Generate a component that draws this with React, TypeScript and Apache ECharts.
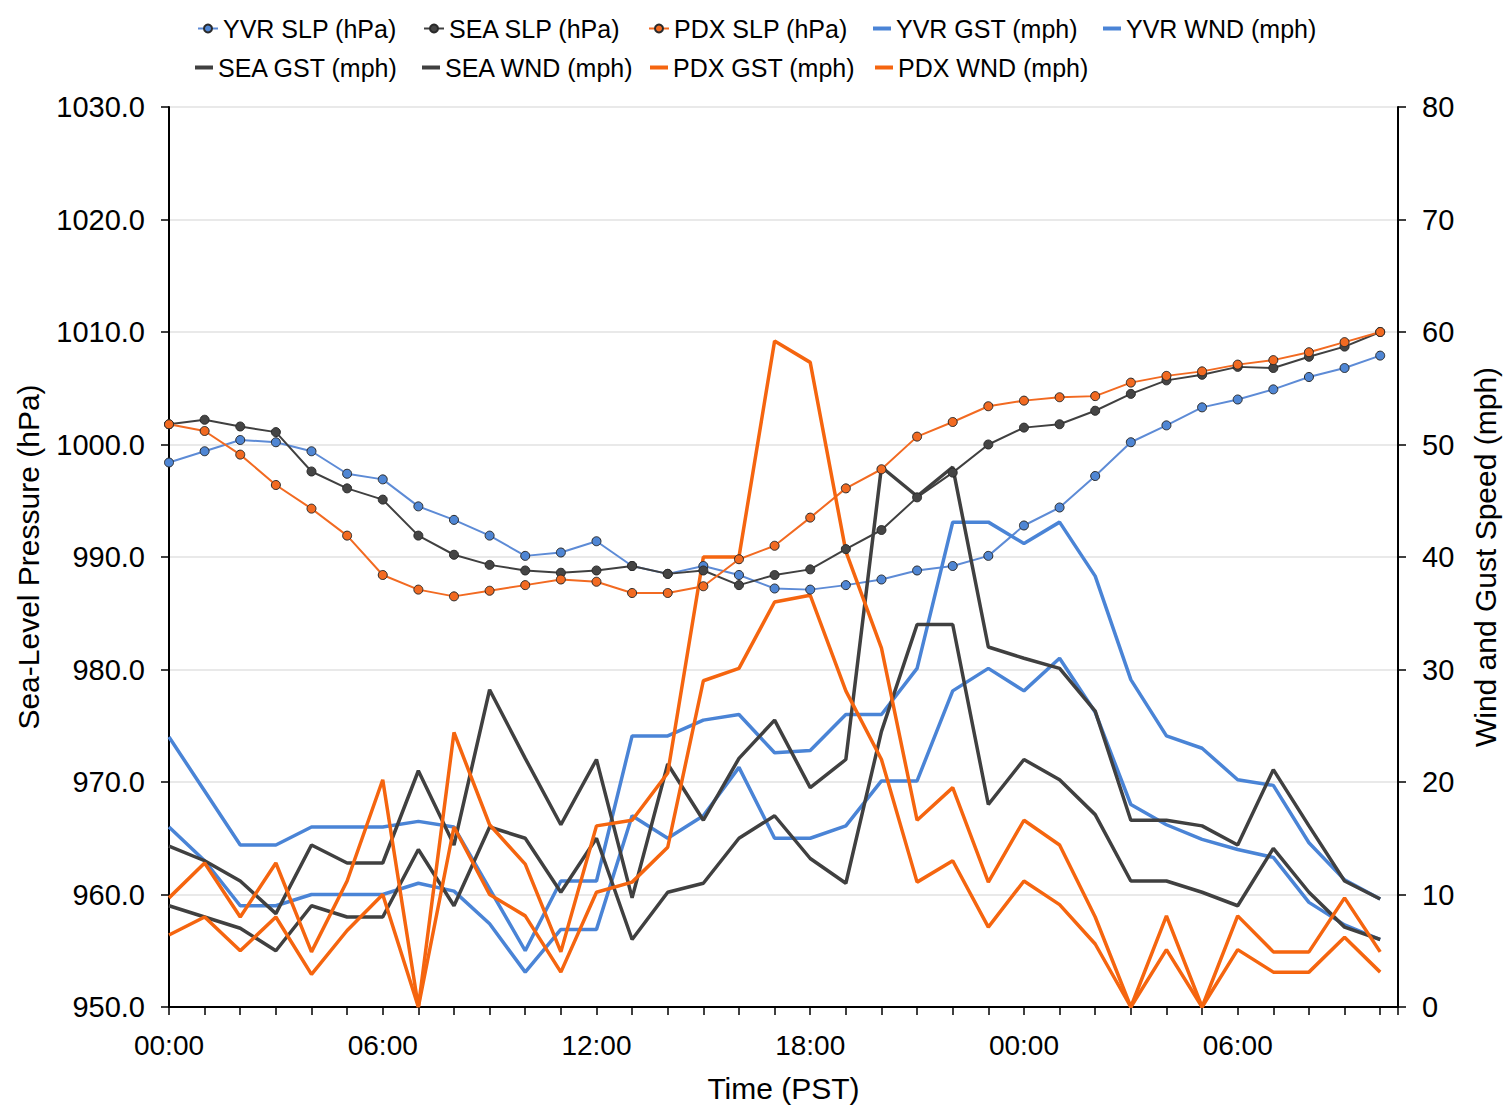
import React, { useEffect, useRef } from "react";
import * as echarts from "echarts";

// Hours since 00:00 PST (hourly observations)
const HOURS = [0, 1, 2, 3, 4, 5, 6, 7, 8, 9, 10, 11, 12, 13, 14, 15, 16, 17, 18, 19, 20, 21, 22, 23, 24, 25, 26, 27, 28, 29, 30, 31, 32, 33, 34];
const TIME_TICK_LABELS = ["00:00", "06:00", "12:00", "18:00", "00:00", "06:00"];

// Sea-level pressure (hPa)
const YVR_SLP = [998.4, 999.4, 1000.4, 1000.2, 999.4, 997.4, 996.9, 994.5, 993.3, 991.9, 990.1, 990.4, 991.4, 989.2, 988.5, 989.2, 988.4, 987.2, 987.1, 987.5, 988.0, 988.8, 989.2, 990.1, 992.8, 994.4, 997.2, 1000.2, 1001.7, 1003.3, 1004.0, 1004.9, 1006.0, 1006.8, 1007.9];
const SEA_SLP = [1001.8, 1002.2, 1001.6, 1001.1, 997.6, 996.1, 995.1, 991.9, 990.2, 989.3, 988.8, 988.6, 988.8, 989.2, 988.5, 988.8, 987.5, 988.4, 988.9, 990.7, 992.4, 995.3, 997.5, 1000.0, 1001.5, 1001.8, 1003.0, 1004.5, 1005.7, 1006.2, 1006.9, 1006.8, 1007.8, 1008.7, 1010.0];
const PDX_SLP = [1001.8, 1001.2, 999.1, 996.4, 994.3, 991.9, 988.4, 987.1, 986.5, 987.0, 987.5, 988.0, 987.8, 986.8, 986.8, 987.4, 989.8, 991.0, 993.5, 996.1, 997.8, 1000.7, 1002.0, 1003.4, 1003.9, 1004.2, 1004.3, 1005.5, 1006.1, 1006.5, 1007.1, 1007.5, 1008.2, 1009.1, 1010.0];

// Wind gust / sustained wind (mph)
const YVR_GST = [24, 19.2, 14.4, 14.4, 16, 16, 16, 16.5, 16, 10.5, 5, 11.2, 11.2, 24.1, 24.1, 25.5, 26, 22.6, 22.8, 26, 26, 30.1, 43.1, 43.1, 41.2, 43.1, 38.3, 29.1, 24.1, 23, 20.2, 19.7, 14.6, 11.3, 9.6];
const YVR_WND = [16, 13, 9, 9, 10, 10, 10, 11, 10.3, 7.4, 3.1, 6.9, 6.9, 17, 15, 17, 21.3, 15, 15, 16.1, 20.1, 20.1, 28.1, 30.1, 28.1, 31, 26.2, 18, 16.2, 14.9, 14, 13.3, 9.3, 7.3, 6];
const SEA_GST = [14.3, 13, 11.2, 8.3, 14.4, 12.8, 12.8, 21, 14.4, 28.2, 22.1, 16.2, 22, 9.7, 21.6, 16.6, 22.1, 25.5, 19.5, 22, 48, 45.4, 48, 32, 31, 30.1, 26.3, 16.6, 16.6, 16.1, 14.4, 21.1, 16.1, 11.2, 9.6];
const SEA_WND = [9, 8, 7, 5, 9, 8, 8, 14, 9, 16, 15, 10.2, 15, 6, 10.2, 11, 15, 17, 13.2, 11, 24.5, 34, 34, 18, 22, 20.2, 17.1, 11.2, 11.2, 10.2, 9, 14.1, 10.2, 7.1, 6];
const PDX_GST = [9.7, 12.8, 8, 12.8, 4.9, 11.2, 20.2, 0, 24.4, 16.2, 12.7, 4.9, 16.1, 16.6, 20.8, 40, 40, 59.2, 57.3, 40.5, 31.9, 16.6, 19.5, 11.1, 16.6, 14.4, 8, 0, 8.1, 0, 8.1, 4.9, 4.9, 9.7, 4.9];
const PDX_WND = [6.4, 8, 5, 8, 2.9, 6.8, 10, 0, 16, 10, 8.1, 3.1, 10.2, 11.1, 14.2, 29, 30.1, 36, 36.6, 28.1, 22, 11.1, 13, 7.1, 11.2, 9.1, 5.6, 0, 5.1, 0, 5.1, 3.1, 3.1, 6.2, 3.1];

const SERIES_NAMES = [
  "YVR SLP (hPa)", "SEA SLP (hPa)", "PDX SLP (hPa)", "YVR GST (mph)", "YVR WND (mph)",
  "SEA GST (mph)", "SEA WND (mph)", "PDX GST (mph)", "PDX WND (mph)",
];

const FONT = "'Liberation Sans', Arial, Helvetica, sans-serif";
const BLUE = "#4a84d6";
const DARK = "#404040";
const ORANGE = "#f5650f";
const LEGEND_COLORS = ["#4f86d4", DARK, "#f26a21", BLUE, BLUE, DARK, DARK, ORANGE, ORANGE];

function toPoints(values: number[]) {
  return values.map((v, i) => [HOURS[i], v]);
}

function slpSeries(name: string, values: number[], line: string, fill: string) {
  return {
    name,
    type: "line",
    yAxisIndex: 0,
    data: toPoints(values),
    symbol: "circle",
    symbolSize: 9,
    showSymbol: true,
    lineStyle: { width: 2, color: line },
    itemStyle: { color: fill, borderColor: "#2a2a2a", borderWidth: 1 },
    emphasis: { disabled: true },
  };
}

function windSeries(name: string, values: number[], color: string) {
  return {
    name,
    type: "line",
    yAxisIndex: 1,
    data: toPoints(values),
    symbol: "none",
    showSymbol: false,
    lineStyle: { width: 3.5, color },
    itemStyle: { color },
    emphasis: { disabled: true },
  };
}

// legend item positions (left, top)
const LEGEND_POS: [number, number][] = [
  [197, 16], [423, 16], [648, 16], [873, 16], [1103, 16],
  [195, 55], [422, 55], [650, 55], [875, 55],
];

export default function App() {
  const ref = useRef<HTMLDivElement>(null);

  useEffect(() => {
    if (!ref.current) return;
    const chart = echarts.init(ref.current, null, { renderer: "svg" });

    const legends = SERIES_NAMES.map((n, i) => {
      const isSlp = i < 3;
      const base: any = {
        data: isSlp ? [n] : [{ name: n, icon: "rect" }],
        left: LEGEND_POS[i][0],
        top: LEGEND_POS[i][1],
        itemWidth: isSlp ? 20 : 18,
        itemHeight: isSlp ? 10 : 4,
        padding: 0,
        selectedMode: false,
        textStyle: { fontSize: 25, color: "#000", fontFamily: FONT },
      };
      if (!isSlp) base.itemStyle = { color: LEGEND_COLORS[i] };
      return base;
    });

    const option = {
      animation: false,
      backgroundColor: "#fff",
      textStyle: { fontFamily: FONT },
      legend: legends,
      grid: { left: 169, right: 105, top: 107, bottom: 98, containLabel: false },
      xAxis: {
        type: "value",
        min: 0,
        max: 34.5,
        interval: 1,
        name: "Time (PST)",
        nameLocation: "middle",
        nameGap: 66,
        nameTextStyle: { fontSize: 30, color: "#000", fontFamily: FONT },
        axisLine: { show: true, onZero: false, lineStyle: { color: "#000", width: 2 } },
        axisTick: { show: true, length: 8, lineStyle: { color: "#000", width: 1.5 } },
        axisLabel: {
          fontSize: 28,
          color: "#000",
          fontFamily: FONT,
          margin: 24,
          formatter: (v: number) =>
            Number.isInteger(v) && v % 6 === 0 ? TIME_TICK_LABELS[v / 6] ?? "" : "",
        },
        splitLine: { show: false },
      },
      yAxis: [
        {
          type: "value",
          position: "left",
          min: 950,
          max: 1030,
          interval: 10,
          name: "Sea-Level Pressure (hPa)",
          nameLocation: "middle",
          nameRotate: 90,
          nameGap: 126,
          nameTextStyle: { fontSize: 30, color: "#000", fontFamily: FONT },
          axisLine: { show: true, onZero: false, lineStyle: { color: "#000", width: 2 } },
          axisTick: { show: true, length: 8, lineStyle: { color: "#000", width: 1.5 } },
          axisLabel: {
            fontSize: 29,
            color: "#000",
            fontFamily: FONT,
            margin: 24,
            formatter: (v: number) => v.toFixed(1),
          },
          splitLine: { show: true, lineStyle: { color: "#e2e2e2", width: 1.5 } },
        },
        {
          type: "value",
          position: "right",
          min: 0,
          max: 80,
          interval: 10,
          name: "Wind and Gust Speed (mph)",
          nameLocation: "middle",
          nameRotate: 90,
          nameGap: 72,
          nameTextStyle: { fontSize: 30, color: "#000", fontFamily: FONT },
          axisLine: { show: true, onZero: false, lineStyle: { color: "#000", width: 2 } },
          axisTick: { show: true, length: 8, lineStyle: { color: "#000", width: 1.5 } },
          axisLabel: { fontSize: 29, color: "#000", fontFamily: FONT, margin: 24 },
          splitLine: { show: false },
        },
      ],
      series: [
        slpSeries(SERIES_NAMES[0], YVR_SLP, "#5d8bd6", "#4f86d4"),
        slpSeries(SERIES_NAMES[1], SEA_SLP, DARK, "#454545"),
        slpSeries(SERIES_NAMES[2], PDX_SLP, "#f26a21", "#f26a21"),
        windSeries(SERIES_NAMES[3], YVR_GST, BLUE),
        windSeries(SERIES_NAMES[4], YVR_WND, BLUE),
        windSeries(SERIES_NAMES[5], SEA_GST, DARK),
        windSeries(SERIES_NAMES[6], SEA_WND, DARK),
        windSeries(SERIES_NAMES[7], PDX_GST, ORANGE),
        windSeries(SERIES_NAMES[8], PDX_WND, ORANGE),
      ],
    };

    chart.setOption(option as any);
    return () => chart.dispose();
  }, []);

  return (
    <div
      ref={ref}
      style={{ position: "fixed", left: 0, top: 0, width: 1508, height: 1108, background: "#fff" }}
    />
  );
}
